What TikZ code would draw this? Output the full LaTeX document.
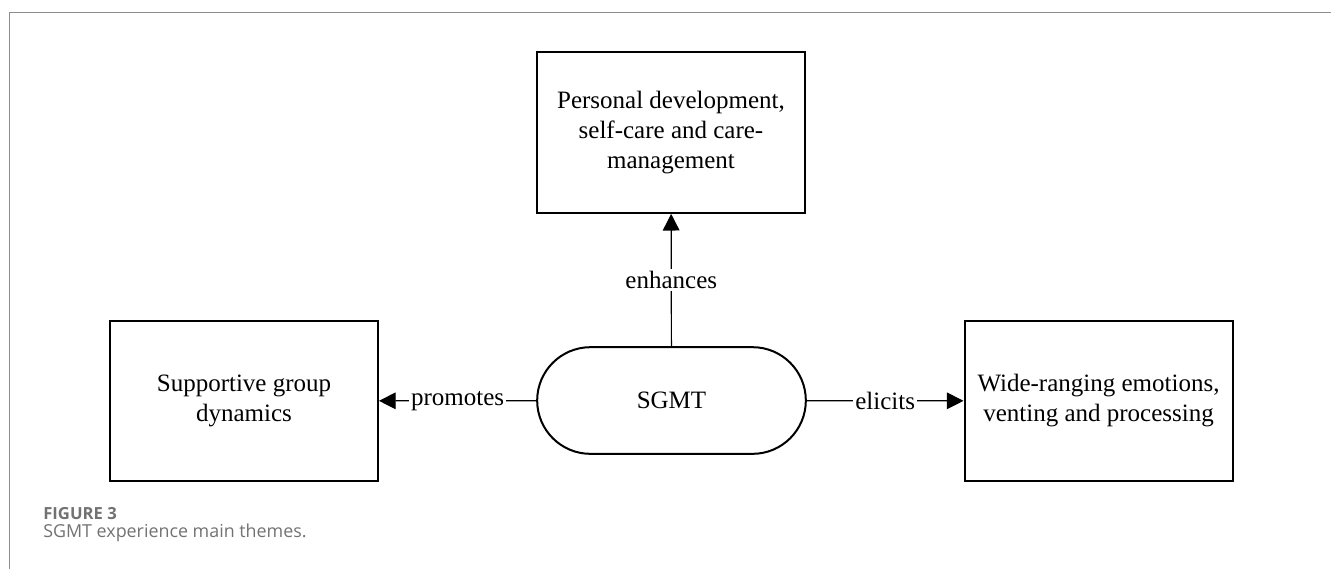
\documentclass[tikz,border=0pt]{standalone}
\usepackage{fontspec}
\setmainfont{Liberation Serif}
\newfontfamily\capfont{Open Sans}
\usetikzlibrary{shapes.misc,arrows.meta}
\definecolor{frame}{HTML}{8C8C8C}
\definecolor{capgray}{HTML}{727272}
\tikzset{
  theme/.style={draw, line width=1.5pt, align=center, font=\fontsize{18.75}{22.5}\selectfont, inner sep=0pt},
  themebox/.style={theme, rectangle, minimum width=201pt, minimum height=120.5pt},
  core/.style={theme, rounded rectangle, minimum width=201.5pt, minimum height=80pt},
  link/.style={line width=0.9pt, -{Triangle[length=12.5pt,width=12.5pt]}},
  lab/.style={fill=white, inner sep=1.5pt, font=\fontsize{18.75}{22.5}\selectfont},
}
\begin{document}
\begin{tikzpicture}[x=0.75pt,y=-0.75pt]
\useasboundingbox (0,0) rectangle (1331,569);
\draw[frame, line width=0.8pt] (9.5,569) -- (9.5,12.3) -- (1331,12.3);
\node[themebox] (top) at (671,132.5) {Personal development,\\self-care and care-\\management};
\node[themebox] (left) at (244,401) {Supportive group\\dynamics};
\node[themebox] (right) at (1098.5,401) {Wide-ranging emotions,\\venting and processing};
\node[core] (sgmt) at (671.5,400.5) {SGMT};
\draw[link] (sgmt) -- node[lab] {promotes} (left);
\draw[link] (sgmt) -- node[lab] {elicits} (right);
\draw[link] (sgmt) -- node[lab] {enhances} (top);
\node[anchor=base west, inner sep=0pt, text=capgray, font=\capfont\bfseries\fontsize{12.5}{14}\selectfont] (fig) at (43,519.5) {FIGURE 3};
\node[anchor=base west, inner sep=0pt, text=capgray, font=\capfont\fontsize{13.4}{16}\selectfont] (cap) at (43,537) {SGMT experience main themes.};
\end{tikzpicture}
\end{document}
